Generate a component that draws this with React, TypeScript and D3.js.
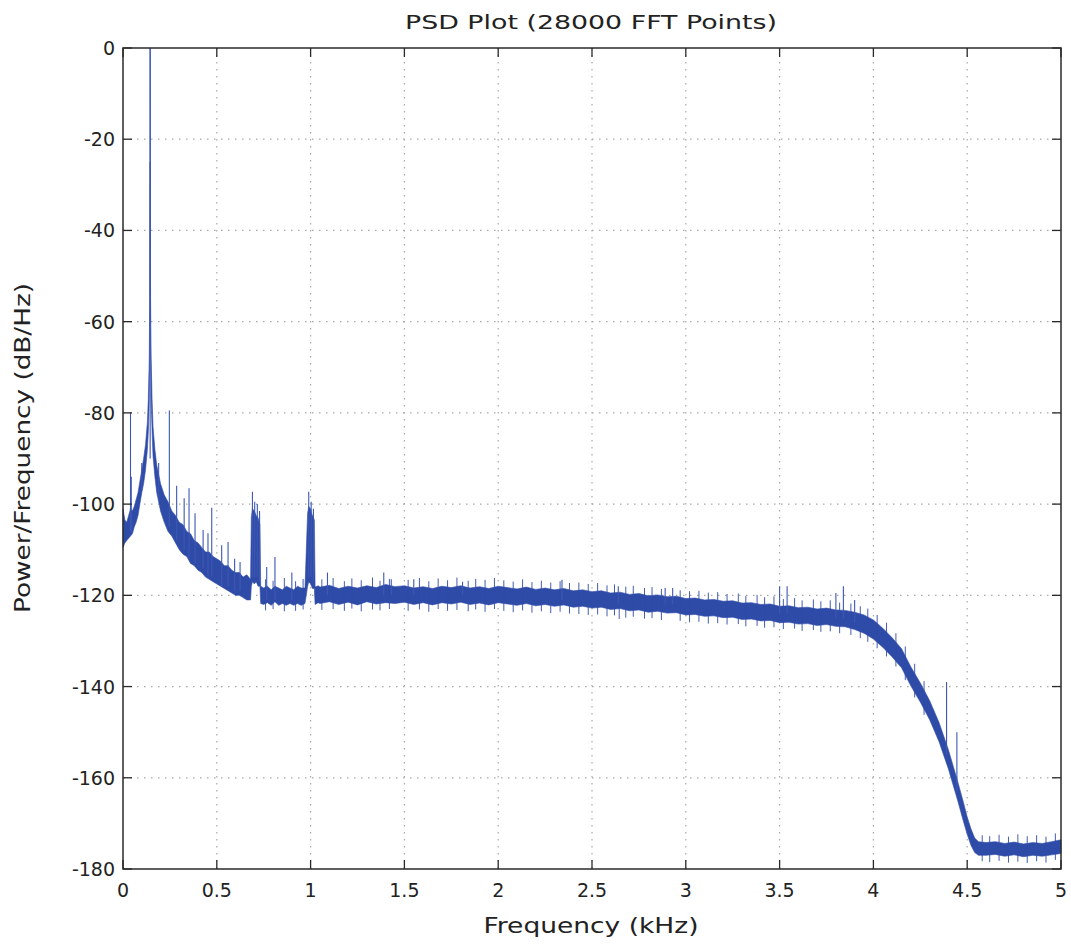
import React from "react";
import * as d3 from "d3";

// ---------- data (frequency in kHz, level in dB/Hz) ----------
const xTickValues = [0, 0.5, 1, 1.5, 2, 2.5, 3, 3.5, 4, 4.5, 5];
const xTickLabels = ["0", "0.5", "1", "1.5", "2", "2.5", "3", "3.5", "4", "4.5", "5"];
const yTickValues = [0, -20, -40, -60, -80, -100, -120, -140, -160, -180];
const yTickLabels = ["0", "-20", "-40", "-60", "-80", "-100", "-120", "-140", "-160", "-180"];

// noise band: [freq, upper edge, lower edge]
const bandLowFreq: number[][] = [
  [0, -101, -109.5], [0.01, -103.5, -108.5], [0.02, -104, -108], [0.03, -102.5, -107.5],
  [0.04, -101, -107], [0.05, -101.5, -106.5], [0.06, -100.5, -105], [0.07, -99, -104],
  [0.08, -97.5, -102.5], [0.09, -95, -100], [0.1, -92.5, -97.5], [0.11, -90, -95.5],
  [0.12, -87, -92.5], [0.13, -82, -88], [0.135, -77, -84], [0.14, -68, -77],
  [0.1425, -55, -66], [0.144, -25, -48], [0.1448, 0, -25], [0.1456, -25, -48],
  [0.147, -55, -66], [0.15, -68, -77], [0.155, -77, -84], [0.16, -83, -89.5],
  [0.17, -88, -94], [0.18, -91.5, -97.5], [0.19, -93.5, -99.5], [0.2, -95.5, -101.5],
  [0.22, -98, -104], [0.24, -99.5, -106], [0.26, -101.5, -107], [0.28, -102.5, -108.5],
  [0.3, -104, -110], [0.32, -104.5, -111], [0.34, -106, -111.5], [0.36, -106.5, -113],
  [0.38, -108, -113.5], [0.4, -108.5, -114.5], [0.42, -109.5, -115], [0.44, -110.5, -116],
  [0.46, -110.5, -116.5], [0.48, -111.5, -117], [0.5, -112, -117.5], [0.52, -112.5, -118],
  [0.54, -113.5, -118.5], [0.56, -113.5, -119], [0.58, -114.5, -119.5], [0.6, -115, -120],
  [0.62, -115, -120], [0.64, -116, -120.5], [0.66, -115.5, -121], [0.68, -116.5, -121],
  [0.684, -103, -118], [0.69, -101, -117], [0.7, -101.5, -117.5], [0.71, -102.5, -117],
  [0.72, -103, -118], [0.73, -104.5, -118], [0.734, -118, -121.8], [0.75, -118.4, -122],
  [0.77, -118, -121.6], [0.79, -118.8, -122.2], [0.81, -118, -121.4], [0.83, -118.4, -122.2],
  [0.85, -118.8, -121.8], [0.87, -118, -122.2], [0.89, -118.4, -121.8], [0.91, -118.8, -122.2],
  [0.93, -118, -121.8], [0.95, -118.4, -122.2], [0.97, -118.4, -121.8], [0.984, -102, -118],
  [0.99, -100.5, -117], [1.0, -101, -117.5], [1.005, -102, -118], [1.01, -102.5, -118.5],
  [1.02, -103.5, -118.5], [1.024, -118.2, -122], [1.04, -117.9, -121.6],
];

const bandMid: number[][] = [
  [1.05, -118.2, -121.8], [1.1, -117.8, -121.4], [1.15, -118.5, -122.0], [1.2, -118.0, -121.5],
  [1.25, -118.4, -122.1], [1.3, -117.9, -121.4], [1.35, -118.3, -121.9], [1.4, -117.6, -121.6],
  [1.45, -118.1, -121.8], [1.5, -117.9, -121.5], [1.55, -118.4, -122.0], [1.6, -118.1, -121.6],
  [1.65, -118.5, -122.1], [1.7, -118.0, -121.6], [1.75, -118.3, -121.9], [1.8, -117.9, -121.5],
  [1.85, -118.4, -122.0], [1.9, -118.1, -121.7], [1.95, -118.5, -122.1], [2.0, -118.0, -121.6],
  [2.05, -118.3, -121.9], [2.1, -118.6, -122.2], [2.15, -118.2, -121.8], [2.2, -118.7, -122.3],
  [2.25, -118.4, -122.0], [2.3, -118.8, -122.4], [2.35, -118.5, -122.1], [2.4, -119.0, -122.6],
  [2.45, -118.8, -122.4], [2.5, -119.2, -122.8], [2.55, -119.0, -122.6], [2.6, -119.5, -123.1],
  [2.65, -119.3, -122.9], [2.7, -119.8, -123.4], [2.75, -119.6, -123.2], [2.8, -120.1, -123.7],
  [2.85, -119.9, -123.5], [2.9, -120.3, -123.9], [2.95, -120.2, -123.8], [3.0, -120.7, -124.3],
  [3.05, -120.6, -124.2], [3.1, -121.0, -124.6], [3.15, -120.9, -124.5], [3.2, -121.3, -124.9],
  [3.25, -121.2, -124.8], [3.3, -121.7, -125.3], [3.35, -121.6, -125.2], [3.4, -122.0, -125.6],
  [3.45, -121.9, -125.5], [3.5, -122.4, -126.0], [3.55, -122.3, -125.9], [3.6, -122.7, -126.3],
  [3.65, -122.6, -126.2], [3.7, -123.0, -126.6], [3.75, -122.8, -126.4], [3.8, -123.2, -126.8],
  [3.85, -123.3, -126.9], [3.9, -123.7, -127.5],
];

const bandRollOff: number[][] = [
  [3.95, -124.3, -128.3], [4.0, -125.4, -129.6], [4.05, -127.2, -131.4], [4.1, -129.3, -133.5],
  [4.15, -131.7, -135.9], [4.2, -135.7, -139.9], [4.25, -139.2, -143.4], [4.3, -143.1, -147.3],
  [4.35, -147.9, -152.1], [4.4, -153.9, -158.1], [4.45, -160.9, -165.1], [4.48, -165.4, -169.6],
  [4.5, -168.6, -172.4], [4.52, -171.2, -174.8], [4.54, -173.2, -176.4], [4.56, -174.0, -177.0],
  [4.6, -174.2, -177.0], [4.65, -174.0, -176.8], [4.7, -174.4, -177.2], [4.75, -174.1, -176.9],
  [4.8, -174.5, -177.3], [4.85, -174.2, -177.0], [4.9, -174.4, -177.2], [4.95, -174.0, -176.9],
  [5.0, -173.6, -176.6],
];

// narrow tones: [freq, peak level, base level]
const spikes: number[][] = [
  [0.1448, 0, -90],
  [0.04, -80, -106], [0.044, -94, -106], [0.1, -91, -97], [0.19, -91, -99],
  [0.247, -79.5, -105], [0.286, -96, -108], [0.326, -98.7, -110], [0.352, -96.5, -112],
  [0.384, -102, -113], [0.427, -105.7, -114], [0.453, -106.4, -116], [0.473, -100.8, -116],
  [0.526, -109, -118], [0.56, -108.3, -118], [0.595, -112, -119], [0.624, -112.7, -119],
  [0.69, -97.3, -116], [0.702, -99.5, -116], [0.716, -100, -116], [0.728, -101.5, -117],
  [0.766, -113.8, -121], [0.81, -111.6, -121], [0.9, -115, -121], [0.99, -97.3, -116],
  [1.003, -99.5, -116], [1.015, -101, -117], [1.09, -115, -120], [1.39, -115, -120],
  [1.43, -116.5, -120], [1.55, -116.5, -120], [1.81, -117, -120], [2.34, -116.6, -121],
  [2.64, -118, -122], [2.89, -118.4, -122], [2.93, -118.4, -122], [3.5, -118, -124],
  [3.54, -118, -124], [3.8, -119.5, -125], [3.84, -118, -125], [3.9, -121, -126],
  [4.39, -139, -155], [4.445, -150, -163],
];

// small noise excursions around the band: [freq, top, bottom]
const fuzz: number[][] = [
  [0.76, -116.5, -123.3], [0.8, -116.8, -123.0], [0.86, -116.2, -123.5], [0.92, -116.9, -123.4],
  [0.96, -116.4, -123.1], [1.06, -116.5, -123.2], [1.12, -116.2, -123.0], [1.18, -116.9, -123.4],
  [1.22, -116.3, -122.9], [1.27, -116.7, -123.5], [1.33, -116.1, -123.1], [1.37, -116.8, -123.3],
  [1.42, -116.4, -123.0], [1.52, -116.6, -123.4], [1.58, -116.2, -123.1], [1.63, -116.9, -123.6],
  [1.68, -116.3, -123.0], [1.73, -116.7, -123.4], [1.78, -116.1, -123.2], [1.84, -116.8, -123.5],
  [1.88, -116.4, -123.1], [1.93, -116.6, -123.6], [1.98, -116.2, -123.0], [2.03, -116.7, -123.4],
  [2.08, -117.0, -123.7], [2.13, -116.5, -123.3], [2.18, -117.1, -123.8], [2.23, -116.8, -123.5],
  [2.28, -117.2, -123.9], [2.33, -116.9, -123.6], [2.38, -117.3, -124.0], [2.43, -117.2, -124.1],
  [2.48, -117.5, -124.3], [2.53, -117.3, -124.2], [2.58, -117.8, -124.6], [2.62, -117.6, -124.4],
  [2.645, -119.5, -125.2], [2.68, -118.1, -124.9], [2.72, -117.9, -124.7], [2.78, -118.4, -125.1],
  [2.82, -118.2, -125.0], [2.87, -118.6, -125.4], [2.97, -118.9, -125.6], [3.02, -119.1, -125.9],
  [3.07, -119.0, -125.8], [3.12, -119.4, -126.2], [3.17, -119.3, -126.1], [3.22, -119.7, -126.4],
  [3.28, -119.6, -126.3], [3.32, -120.1, -126.8], [3.38, -119.9, -126.7], [3.42, -120.4, -127.1],
  [3.47, -120.2, -127.0], [3.52, -120.8, -127.4], [3.58, -120.6, -127.3], [3.62, -121.1, -127.8],
  [3.68, -120.9, -127.6], [3.72, -121.3, -128.0], [3.77, -121.1, -127.9], [3.82, -121.6, -128.3],
  [3.88, -121.8, -128.7], [3.93, -122.4, -129.4], [3.97, -122.9, -130.2], [4.02, -124.3, -131.6],
  [4.07, -126.0, -133.4], [4.12, -128.3, -135.6], [4.17, -131.2, -138.6], [4.22, -135.0, -142.4],
  [4.27, -138.8, -146.2], [4.58, -172.6, -178.3], [4.62, -172.8, -178.5], [4.67, -172.5, -178.2],
  [4.72, -172.9, -178.6], [4.77, -172.4, -178.4], [4.82, -172.8, -178.7], [4.87, -172.6, -178.3],
  [4.92, -172.9, -178.6], [4.97, -172.2, -178.0],
];

const TITLE = "PSD Plot (28000 FFT Points)";
const X_LABEL = "Frequency (kHz)";
const Y_LABEL = "Power/Frequency (dB/Hz)";

// ---------- layout ----------
const W = 1071;
const H = 950;
const M = { left: 123, top: 48, right: 10, bottom: 81 };
const FONT = "'DejaVu Sans', Verdana, sans-serif";
const BLUE = "#2f4ba8";
const AXIS = "#2a2a2a";

export default function App() {
  const x = d3.scaleLinear().domain([0, 5]).range([M.left, W - M.right]);
  const y = d3.scaleLinear().domain([-180, 0]).range([H - M.bottom, M.top]);
  const band = [...bandLowFreq, ...bandMid, ...bandRollOff];
  const area = d3
    .area<number[]>()
    .x((d) => x(d[0]))
    .y0((d) => y(d[2]))
    .y1((d) => y(d[1]));
  const x0 = x(0), x1 = x(5), y0 = y(-180), y1 = y(0);
  const tick = 9;

  return (
    <svg
      width={W}
      height={H}
      style={{ position: "absolute", left: 0, top: 0, display: "block", background: "#fff" }}
      fontFamily={FONT}
    >
      <rect x={0} y={0} width={W} height={H} fill="#fff" />
      {/* grid */}
      <g stroke="#a8a8a8" strokeWidth={1.2} strokeDasharray="1.5,5.5">
        {xTickValues.slice(1, -1).map((v) => (
          <line key={"gx" + v} x1={x(v)} x2={x(v)} y1={y1} y2={y0} />
        ))}
        {yTickValues.slice(1, -1).map((v) => (
          <line key={"gy" + v} x1={x0} x2={x1} y1={y(v)} y2={y(v)} />
        ))}
      </g>
      {/* data */}
      <path d={area(band) || ""} fill={BLUE} stroke={BLUE} strokeWidth={0.6} />
      <g stroke={BLUE} strokeWidth={1} strokeOpacity={0.9}>
        {fuzz.map((d, i) => (
          <line key={"f" + i} x1={x(d[0])} x2={x(d[0])} y1={y(d[1])} y2={y(d[2])} />
        ))}
      </g>
      <g stroke="#3d57b3" strokeWidth={1.1}>
        {spikes.map((d, i) => (
          <line key={"s" + i} x1={x(d[0])} x2={x(d[0])} y1={y(d[1])} y2={y(d[2])} />
        ))}
      </g>
      {/* axes box and ticks */}
      <rect x={x0} y={y1} width={x1 - x0} height={y0 - y1} fill="none" stroke={AXIS} strokeWidth={1.5} />
      <g stroke={AXIS} strokeWidth={1.3}>
        {xTickValues.map((v) => (
          <g key={"tx" + v}>
            <line x1={x(v)} x2={x(v)} y1={y0} y2={y0 - tick} />
            <line x1={x(v)} x2={x(v)} y1={y1} y2={y1 + tick} />
          </g>
        ))}
        {yTickValues.map((v) => (
          <g key={"ty" + v}>
            <line x1={x0} x2={x0 + tick} y1={y(v)} y2={y(v)} />
            <line x1={x1} x2={x1 - tick} y1={y(v)} y2={y(v)} />
          </g>
        ))}
      </g>
      {/* tick labels */}
      <g fontSize={19} fill="#222">
        {xTickValues.map((v, i) => (
          <text key={"lx" + v} x={x(v)} y={y0 + 28} textAnchor="middle">
            {xTickLabels[i]}
          </text>
        ))}
        {yTickValues.map((v, i) => (
          <text key={"ly" + v} x={x0 - 8} y={y(v) + 7} textAnchor="end">
            {yTickLabels[i]}
          </text>
        ))}
      </g>
      {/* titles */}
      <text x={591} y={29} textAnchor="middle" fontSize={20} fill="#222" textLength={372} lengthAdjust="spacingAndGlyphs">
        {TITLE}
      </text>
      <text x={591} y={933} textAnchor="middle" fontSize={21} fill="#222" textLength={215} lengthAdjust="spacingAndGlyphs">
        {X_LABEL}
      </text>
      <text
        transform="translate(30,448) rotate(-90)"
        textAnchor="middle"
        fontSize={22}
        fill="#222"
        textLength={330}
        lengthAdjust="spacingAndGlyphs"
      >
        {Y_LABEL}
      </text>
    </svg>
  );
}
